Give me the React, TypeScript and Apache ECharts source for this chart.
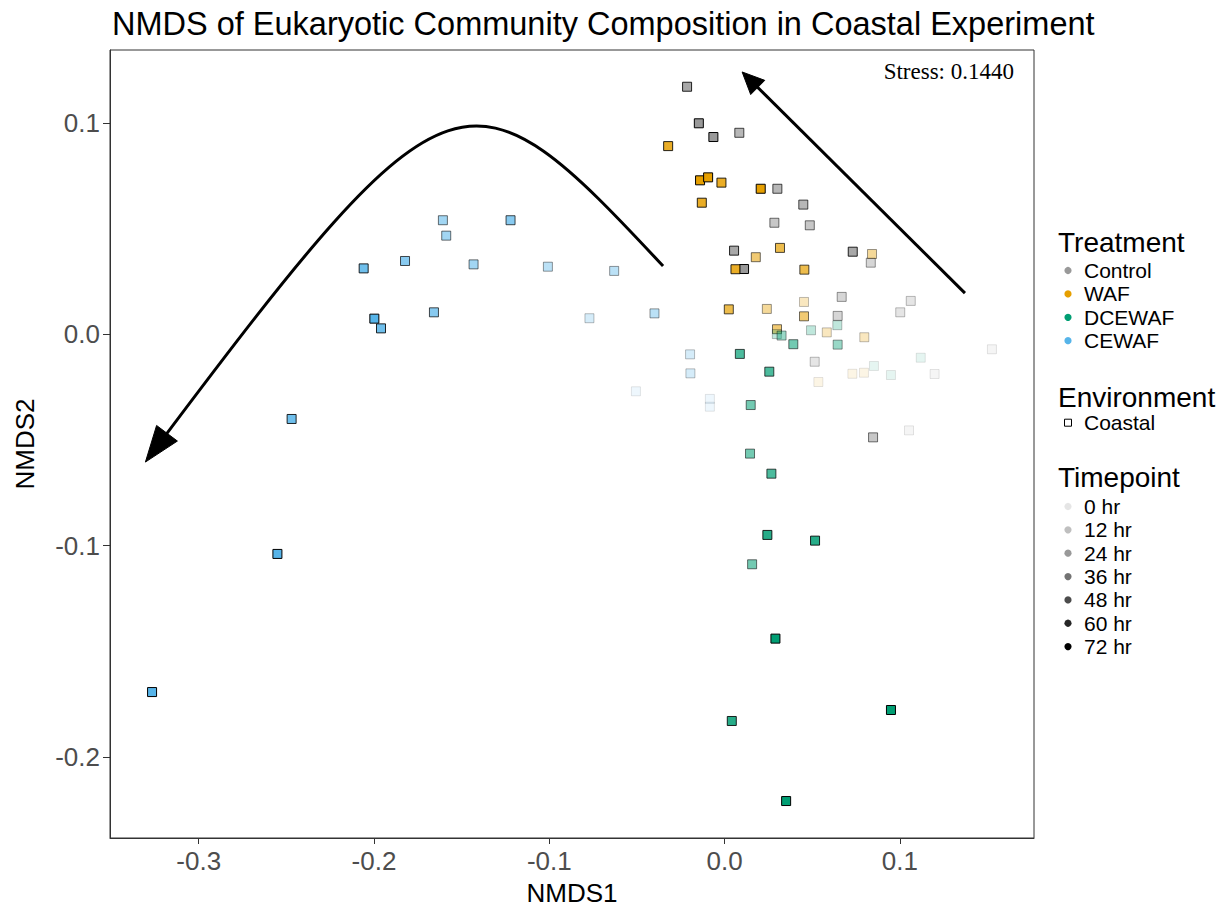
import React, { useEffect, useRef } from "react";
import * as echarts from "echarts";

// Treatments, their colours and the sampling timepoints
const treatments = ["Control", "WAF", "DCEWAF", "CEWAF"];
const treatmentColors = ["#999999", "#E69F00", "#009E73", "#56B4E9"];
const timepoints = ["0 hr", "12 hr", "24 hr", "36 hr", "48 hr", "60 hr", "72 hr"];
const timepointAlpha = [0.1, 0.25, 0.4, 0.55, 0.7, 0.85, 1];
const environments = ["Coastal"];

// Axis tick values
const xTicks = [-0.3, -0.2, -0.1, 0.0, 0.1];
const yTicks = [-0.2, -0.1, 0.0, 0.1];

// Ordination scores: [NMDS1, NMDS2, timepoint index]
const controlPoints = [
  [-0.0214, 0.1173, 5],
  [-0.0147, 0.1, 6],
  [-0.0064, 0.0935, 6],
  [0.0084, 0.0955, 4],
  [0.0301, 0.069, 4],
  [0.0449, 0.0615, 4],
  [0.0284, 0.0529, 3],
  [0.0486, 0.0517, 3],
  [0.0054, 0.0397, 5],
  [0.0111, 0.031, 6],
  [0.0731, 0.0392, 5],
  [0.0834, 0.034, 2],
  [0.0668, 0.0178, 2],
  [0.1062, 0.0159, 1],
  [0.1002, 0.0105, 1],
  [0.0645, 0.0088, 2],
  [0.0514, -0.0129, 1],
  [0.0847, -0.0487, 3],
  [0.1052, -0.0454, 0],
  [0.1198, -0.0187, 0],
  [0.1525, -0.007, 0],
];

const wafPoints = [
  [-0.0322, 0.0892, 5],
  [-0.014, 0.073, 6],
  [-0.0094, 0.0744, 6],
  [-0.0018, 0.0719, 5],
  [0.0206, 0.069, 6],
  [-0.013, 0.0624, 5],
  [0.0062, 0.0309, 5],
  [0.0178, 0.0366, 3],
  [0.0316, 0.041, 4],
  [0.0455, 0.0307, 4],
  [0.0841, 0.0381, 2],
  [0.0024, 0.0119, 4],
  [0.0241, 0.0121, 2],
  [0.0453, 0.0154, 1],
  [0.0453, 0.0086, 3],
  [0.0299, 0.0025, 3],
  [0.0583, 0.001, 1],
  [0.0797, -0.0013, 1],
  [0.0729, -0.0186, 0],
  [0.0795, -0.0181, 0],
  [0.0535, -0.0225, 0],
];

const dcewafPoints = [
  [0.0298, 0.0002, 1],
  [0.0325, -0.0005, 2],
  [0.0392, -0.0046, 3],
  [0.0493, 0.002, 1],
  [0.0643, 0.0044, 1],
  [0.0645, -0.0048, 2],
  [0.0087, -0.0092, 4],
  [0.0255, -0.0176, 4],
  [0.0149, -0.0334, 3],
  [0.0145, -0.0564, 3],
  [0.0267, -0.0659, 4],
  [0.0244, -0.0949, 5],
  [0.0516, -0.0976, 5],
  [0.0157, -0.1088, 3],
  [0.029, -0.144, 6],
  [0.0041, -0.183, 5],
  [0.0351, -0.2209, 6],
  [0.0949, -0.1778, 6],
  [0.1119, -0.011, 0],
  [0.0852, -0.0149, 0],
  [0.0949, -0.0192, 0],
];

const cewafPoints = [
  [-0.1607, 0.0541, 3],
  [-0.1221, 0.0541, 4],
  [-0.1588, 0.0468, 3],
  [-0.2059, 0.0313, 5],
  [-0.1823, 0.0348, 4],
  [-0.1432, 0.0332, 3],
  [-0.1008, 0.0321, 2],
  [-0.063, 0.0301, 2],
  [-0.1998, 0.0075, 6],
  [-0.196, 0.0029, 5],
  [-0.1658, 0.0105, 4],
  [-0.0771, 0.0077, 1],
  [-0.04, 0.01, 2],
  [-0.247, -0.04, 5],
  [-0.2551, -0.1039, 6],
  [-0.3266, -0.1693, 6],
  [-0.0197, -0.0094, 1],
  [-0.0195, -0.0184, 1],
  [-0.0506, -0.0269, 0],
  [-0.0084, -0.0305, 0],
  [-0.0084, -0.0342, 0],
];

const treatmentPoints = [controlPoints, wafPoints, dcewafPoints, cewafPoints];

// Trajectory arrows in NMDS space (start, optional bezier controls, end)
const arrowFrom = [
  [-0.0351, 0.0324],
  [0.1371, 0.0196],
];
const arrowCtrl1 = [[-0.1457, 0.1309], null];
const arrowCtrl2 = [[-0.1559, 0.1328], null];
const arrowTo = [
  [-0.3304, -0.0604],
  [0.01, 0.1243],
];
const arrowHeadLen = [36, 22];
const arrowHeadHalf = [13, 10];

const stressLabel = "Stress: 0.1440";

const SANS = "'Liberation Sans', Arial, Helvetica, sans-serif";
const SERIF = "'Liberation Serif', 'Times New Roman', serif";

function renderArrow(params: any, api: any) {
  const i = params.dataIndex;
  const p0 = api.coord(arrowFrom[i]);
  const p3 = api.coord(arrowTo[i]);
  const c1 = arrowCtrl1[i];
  const c2 = arrowCtrl2[i];
  let dx: number, dy: number;
  let p1: number[] | null = null;
  let p2: number[] | null = null;
  if (c1 && c2) {
    p1 = api.coord(c1);
    p2 = api.coord(c2);
    dx = p3[0] - p2![0];
    dy = p3[1] - p2![1];
  } else {
    dx = p3[0] - p0[0];
    dy = p3[1] - p0[1];
  }
  const len = Math.sqrt(dx * dx + dy * dy);
  const ux = dx / len;
  const uy = dy / len;
  const hl = arrowHeadLen[i];
  const hw = arrowHeadHalf[i];
  const bx = p3[0] - ux * hl;
  const by = p3[1] - uy * hl;
  const ex = p3[0] - ux * hl * 0.6;
  const ey = p3[1] - uy * hl * 0.6;
  const head = {
    type: "polygon",
    shape: {
      points: [
        [p3[0], p3[1]],
        [bx - uy * hw, by + ux * hw],
        [bx + uy * hw, by - ux * hw],
      ],
    },
    style: { fill: "#000", stroke: "#000", lineWidth: 1 },
  };
  const body =
    p1 && p2
      ? {
          type: "bezierCurve",
          shape: {
            x1: p0[0],
            y1: p0[1],
            cpx1: p1[0],
            cpy1: p1[1],
            cpx2: p2[0],
            cpy2: p2[1],
            x2: ex,
            y2: ey,
          },
          style: { stroke: "#000", lineWidth: 3, fill: null },
        }
      : {
          type: "line",
          shape: { x1: p0[0], y1: p0[1], x2: ex, y2: ey },
          style: { stroke: "#000", lineWidth: 3 },
        };
  return { type: "group", children: [body, head] };
}

function legendGraphics() {
  const els: any[] = [];
  const titleX = 1058;
  const dotX = 1068;
  const textX = 1084;
  const titleFont = `28px ${SANS}`;
  const itemFont = `21px ${SANS}`;
  const addTitle = (t: string, y: number) =>
    els.push({
      type: "text",
      x: titleX,
      y,
      silent: true,
      style: { text: t, font: titleFont, fill: "#000", align: "left", verticalAlign: "middle", textAlign: "left", textVerticalAlign: "middle" },
    });
  const addLabel = (t: string, y: number) =>
    els.push({
      type: "text",
      x: textX,
      y,
      silent: true,
      style: { text: t, font: itemFont, fill: "#000", align: "left", verticalAlign: "middle", textAlign: "left", textVerticalAlign: "middle" },
    });

  addTitle("Treatment", 242);
  treatments.forEach((t, i) => {
    const y = 270.5 + i * 23.4;
    els.push({ type: "circle", silent: true, shape: { cx: dotX, cy: y, r: 3.6 }, style: { fill: treatmentColors[i] } });
    addLabel(t, y);
  });

  addTitle("Environment", 397);
  environments.forEach((t, i) => {
    const y = 422.7 + i * 23.4;
    els.push({
      type: "rect",
      silent: true,
      shape: { x: dotX - 3.5, y: y - 3.5, width: 7, height: 7 },
      style: { fill: "#fff", stroke: "#000", lineWidth: 1 },
    });
    addLabel(t, y);
  });

  addTitle("Timepoint", 477);
  timepoints.forEach((t, i) => {
    const y = 506.5 + i * 23.35;
    els.push({
      type: "circle",
      silent: true,
      shape: { cx: dotX, cy: y, r: 3.6 },
      style: { fill: "#000", opacity: timepointAlpha[i] },
    });
    addLabel(t, y);
  });

  els.push({
    type: "text",
    x: 1014,
    y: 71,
    silent: true,
    style: { text: stressLabel, font: `23px ${SERIF}`, fill: "#000", align: "right", verticalAlign: "middle", textAlign: "right", textVerticalAlign: "middle" },
  });
  return els;
}

export default function App() {
  const ref = useRef<HTMLDivElement>(null);

  useEffect(() => {
    document.body.style.margin = "0";
    if (!ref.current) return;
    const chart = echarts.init(ref.current, null, { renderer: "svg" });

    const scatterSeries = treatments.map((name, ti) => ({
      name,
      type: "scatter",
      symbol: "rect",
      symbolSize: 9,
      silent: true,
      data: treatmentPoints[ti].map((p) => ({
        value: [p[0], p[1]],
        itemStyle: { opacity: timepointAlpha[p[2]] },
      })),
      itemStyle: {
        color: treatmentColors[ti],
        borderColor: "#000",
        borderWidth: 1,
      },
      z: 2,
    }));

    chart.setOption({
      animation: false,
      title: {
        text: "NMDS of Eukaryotic Community Composition in Coastal Experiment",
        left: 107,
        top: 2,
        textStyle: { fontSize: 32.5, fontWeight: "normal", color: "#000", fontFamily: SANS },
      },
      grid: {
        left: 110,
        right: 187,
        top: 50,
        bottom: 73,
        show: true,
        borderColor: "#333",
        borderWidth: 1,
        backgroundColor: "#fff",
      },
      xAxis: {
        type: "value",
        min: -0.3506,
        max: 0.1765,
        name: "NMDS1",
        nameLocation: "middle",
        nameGap: 42,
        nameTextStyle: { fontSize: 26, color: "#000", fontFamily: SANS },
        axisLine: { show: true, onZero: false, lineStyle: { color: "#333", width: 1 } },
        axisTick: { show: true, length: 6, customValues: xTicks, lineStyle: { color: "#333" } },
        axisLabel: {
          customValues: xTicks,
          formatter: (v: number) => v.toFixed(1),
          fontSize: 26,
          color: "#4d4d4d",
          fontFamily: SANS,
          margin: 10,
        },
        splitLine: { show: false },
      },
      yAxis: {
        type: "value",
        min: -0.2384,
        max: 0.1347,
        name: "NMDS2",
        nameLocation: "middle",
        nameGap: 72,
        nameTextStyle: { fontSize: 26, color: "#000", fontFamily: SANS },
        axisLine: { show: true, onZero: false, lineStyle: { color: "#333", width: 1 } },
        axisTick: { show: true, length: 7, customValues: yTicks, lineStyle: { color: "#333" } },
        axisLabel: {
          customValues: yTicks,
          formatter: (v: number) => v.toFixed(1),
          fontSize: 26,
          color: "#4d4d4d",
          fontFamily: SANS,
          margin: 10,
        },
        splitLine: { show: false },
      },
      series: [
        ...scatterSeries,
        {
          type: "custom",
          silent: true,
          renderItem: renderArrow,
          data: arrowTo.map((p) => [p[0], p[1]]),
          encode: { x: 0, y: 1 },
          z: 3,
        },
      ],
      graphic: legendGraphics(),
    });

    return () => chart.dispose();
  }, []);

  return <div ref={ref} style={{ width: 1221, height: 911 }} />;
}
